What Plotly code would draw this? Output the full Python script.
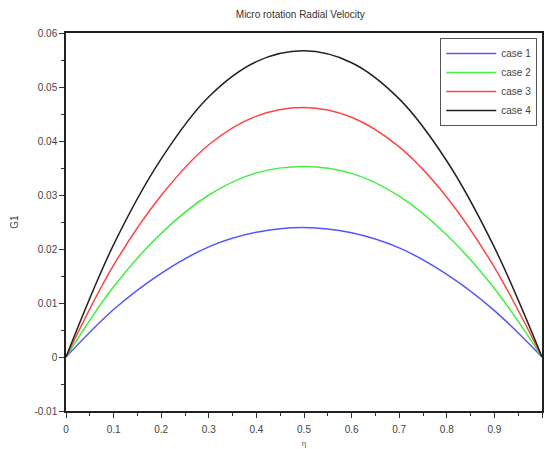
import plotly.graph_objects as go

eta = [0.0, 0.1, 0.2, 0.3, 0.4, 0.5, 0.6, 0.7, 0.8, 0.9, 1.0]
case1 = [0.0, 0.0088, 0.0155, 0.0204, 0.0231, 0.0240, 0.0230, 0.0202, 0.0153, 0.0086, 0.0]
case2 = [0.0, 0.0130, 0.0229, 0.0300, 0.0341, 0.0353, 0.0340, 0.0298, 0.0226, 0.0127, 0.0]
case3 = [0.0, 0.0170, 0.0299, 0.0393, 0.0446, 0.0462, 0.0444, 0.0389, 0.0296, 0.0166, 0.0]
case4 = [0.0, 0.0208, 0.0367, 0.0482, 0.0547, 0.0567, 0.0545, 0.0478, 0.0363, 0.0203, 0.0]

series = [("case 1", case1, "#5555ff"), ("case 2", case2, "#44ee44"),
          ("case 3", case3, "#ff4444"), ("case 4", case4, "#222222")]

fig = go.Figure()
for name, ys, col in series:
    fig.add_trace(go.Scatter(x=eta, y=ys, mode="lines", name=name,
                             line=dict(color=col, width=1.5, shape="spline", smoothing=1.0)))

axis_common = dict(showgrid=False, zeroline=False, showline=True, linecolor="#222",
                   linewidth=1.5, mirror=True, ticks="outside", ticklen=5,
                   tickcolor="#333", tickfont=dict(size=10, color="#444"))

fig.update_layout(
    width=544, height=449,
    margin=dict(l=66, r=0, t=33, b=38),
    paper_bgcolor="white", plot_bgcolor="white",
    font=dict(family="Liberation Sans, Arial, sans-serif", color="#333"),
    title=dict(text="Micro rotation Radial Velocity", x=0.552, xanchor="center",
               y=0.968, yanchor="middle", font=dict(size=10, color="#333")),
    showlegend=True,
    legend=dict(x=0.99, y=0.987, xanchor="right", yanchor="top",
                bgcolor="white", bordercolor="#555", borderwidth=1,
                itemwidth=50,
                font=dict(size=10, color="#444"), tracegroupgap=0),
)
fig.update_xaxes(range=[0, 1], tickvals=[0, 0.1, 0.2, 0.3, 0.4, 0.5, 0.6, 0.7, 0.8, 0.9, 1],
                 ticktext=["0", "0.1", "0.2", "0.3", "0.4", "0.5", "0.6", "0.7", "0.8", "0.9", "1"],
                 ticklabelstandoff=3,
                 minor=dict(ticks="outside", dtick=0.05, ticklen=3, tickcolor="#333"),
                 title=dict(text="η", font=dict(size=8, color="#555"), standoff=7),
                 **axis_common)
fig.update_yaxes(range=[-0.01, 0.06], dtick=0.01,
                 tickvals=[-0.01, 0, 0.01, 0.02, 0.03, 0.04, 0.05, 0.06],
                 ticktext=["-0.01", "0", "0.01", "0.02", "0.03", "0.04", "0.05", "0.06"],
                 minor=dict(ticks="outside", dtick=0.005, ticklen=3, tickcolor="#333"),
                 title=dict(text="G1", font=dict(size=10, color="#444"), standoff=14),
                 **axis_common)

fig.write_html("out.html", config={"displayModeBar": False},
               post_script="document.body.style.margin='0';document.body.style.overflow='hidden';")
